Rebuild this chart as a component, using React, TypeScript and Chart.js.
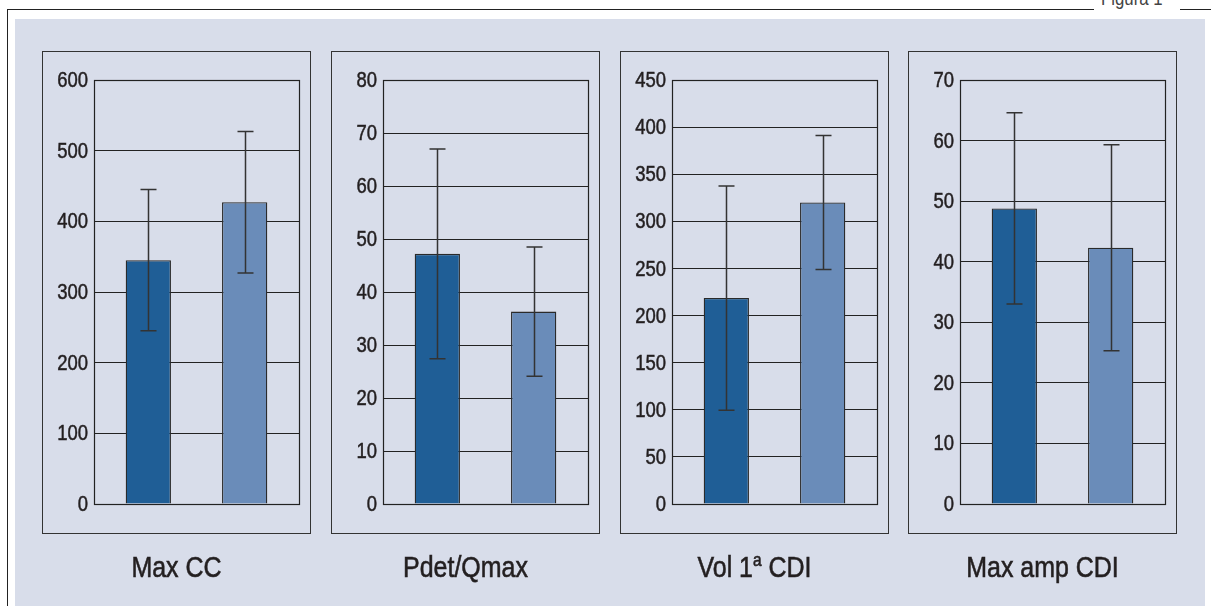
import React, { useEffect, useRef } from "react";
import { Chart, registerables } from "chart.js";

Chart.register(...registerables);

const categories = ["Grupo 1", "Grupo 2"];

const panelTitles = ["Max CC", "Pdet/Qmax", "Vol 1ª CDI", "Max amp CDI"];

const maxCCMeans = [345, 427];
const maxCCSd = [100, 100];
const pdetMeans = [47.2, 36.3];
const pdetSd = [19.8, 12.2];
const volMeans = [218.6, 320];
const volSd = [119, 71];
const ampMeans = [48.8, 42.3];
const ampSd = [15.8, 17];

const axisMax = [600, 80, 450, 70];
const axisStep = [100, 10, 50, 10];

const panels = [
  { means: maxCCMeans, sd: maxCCSd },
  { means: pdetMeans, sd: pdetSd },
  { means: volMeans, sd: volSd },
  { means: ampMeans, sd: ampSd },
];

const panelX = [42, 331, 620, 908];
const PANEL_Y = 51;
const PANEL_W = 269;
const PANEL_H = 483;

const FONT = "'Liberation Sans', Arial, sans-serif";
const NARROW = 0.84;
const DARK = "#1F5E96";
const LIGHT = "#6A8CB9";
const BAR_COLORS = [DARK, LIGHT];
const BG = "#D8DDEA";
const INK = "#231f20";

const framePlugin = {
  id: "frameAndErrors",
  afterDatasetsDraw(chart: any, _args: any, opts: any) {
    const { ctx, chartArea } = chart;
    const yScale = chart.scales.y;
    const sd: number[] = opts.sd || [];
    const means: number[] = opts.means || [];
    ctx.save();
    ctx.strokeStyle = "#333";
    ctx.lineWidth = 1.5;
    chart.data.datasets.forEach((_ds: any, i: number) => {
      const bar: any = chart.getDatasetMeta(i).data[0];
      const x = Math.round(bar.x) + 0.5;
      const top = yScale.getPixelForValue(means[i] + sd[i]);
      const bot = yScale.getPixelForValue(means[i] - sd[i]);
      ctx.beginPath();
      ctx.moveTo(x, top);
      ctx.lineTo(x, bot);
      ctx.moveTo(x - 8, top);
      ctx.lineTo(x + 8, top);
      ctx.moveTo(x - 8, bot);
      ctx.lineTo(x + 8, bot);
      ctx.stroke();
    });
    ctx.strokeStyle = "#222";
    ctx.lineWidth = 1.2;
    ctx.strokeRect(
      Math.round(chartArea.left) + 0.5,
      Math.round(chartArea.top) + 0.5,
      Math.round(chartArea.right - chartArea.left),
      Math.round(chartArea.bottom - chartArea.top)
    );
    // narrow tick labels from the library's y scale
    ctx.fillStyle = INK;
    ctx.strokeStyle = INK;
    ctx.lineWidth = 0.5;
    ctx.font = `22px ${FONT}`;
    ctx.textAlign = "right";
    ctx.textBaseline = "middle";
    yScale.ticks.forEach((t: any) => {
      const y = yScale.getPixelForValue(t.value);
      ctx.save();
      ctx.translate(chartArea.left - 6, y + 1);
      ctx.scale(NARROW, 1);
      ctx.fillText(String(t.label), 0, 0);
      ctx.strokeText(String(t.label), 0, 0);
      ctx.restore();
    });
    ctx.restore();
  },
};

function Panel({ idx }: { idx: number }) {
  const ref = useRef<HTMLCanvasElement>(null);
  useEffect(() => {
    const p = panels[idx];
    const chart = new Chart(ref.current as HTMLCanvasElement, {
      type: "bar",
      data: {
        labels: [""],
        datasets: categories.map((c, i) => ({
          label: c,
          data: [p.means[i]],
          backgroundColor: BAR_COLORS[i],
          borderColor: "#2a2a2a",
          borderWidth: 1.3,
          barPercentage: 0.47,
          categoryPercentage: 0.94,
        })),
      },
      options: {
        responsive: false,
        animation: false,
        layout: { padding: { top: 29, bottom: 30, left: 0, right: 12 } },
        plugins: {
          legend: { display: false },
          tooltip: { enabled: false },
          frameAndErrors: { means: p.means, sd: p.sd },
        } as any,
        scales: {
          x: { display: false },
          y: {
            min: 0,
            max: axisMax[idx],
            afterFit: (s: any) => {
              s.width = 52;
            },
            ticks: {
              stepSize: axisStep[idx],
              display: false,
            },
            grid: { color: "#222", lineWidth: 1, drawTicks: false },
            border: { display: true, color: "#222", width: 1 },
          },
        },
      },
      plugins: [framePlugin],
    });
    return () => chart.destroy();
  }, [idx]);

  const x = panelX[idx];
  const title =
    idx === 2 ? (
      <span>
        Vol 1
        <span style={{ fontSize: "0.62em", position: "relative", top: "-0.6em", lineHeight: 0 }}>a</span> CDI
      </span>
    ) : (
      panelTitles[idx]
    );
  return (
    <>
      <canvas
        ref={ref}
        width={PANEL_W}
        height={PANEL_H}
        style={{ position: "absolute", left: x, top: PANEL_Y, width: PANEL_W, height: PANEL_H }}
      />
      <div
        style={{
          position: "absolute",
          left: x,
          top: PANEL_Y,
          width: PANEL_W,
          height: PANEL_H,
          boxSizing: "border-box",
          border: "1.5px solid #333",
          pointerEvents: "none",
        }}
      />
      <div
        style={{
          position: "absolute",
          left: x,
          top: 546,
          width: PANEL_W,
          height: 42,
          lineHeight: "42px",
          textAlign: "center",
          fontFamily: FONT,
          fontSize: 30,
          color: INK,
          WebkitTextStroke: `0.6px ${INK}`,
          transform: `scaleX(${NARROW * 0.99})`,
          transformOrigin: "center",
          whiteSpace: "nowrap",
        }}
      >
        {title}
      </div>
    </>
  );
}

export default function App() {
  return (
    <div
      style={{
        position: "absolute",
        left: 0,
        top: 0,
        width: 1211,
        height: 606,
        overflow: "hidden",
        background: "#fff",
      }}
    >
      <div style={{ position: "absolute", left: 15, top: 19, width: 1190, height: 600, background: BG }} />
      <div style={{ position: "absolute", left: 7, top: 9, width: 1087, height: 0, borderTop: "1px solid #222" }} />
      <div style={{ position: "absolute", left: 1180, top: 9, width: 31, height: 0, borderTop: "1px solid #222" }} />
      <div style={{ position: "absolute", left: 7, top: 9, width: 0, height: 600, borderLeft: "1.5px solid #222" }} />
      <div
        style={{
          position: "absolute",
          left: 1101,
          top: -12,
          height: 20,
          lineHeight: "20px",
          fontFamily: FONT,
          fontSize: 20,
          color: "#444",
          whiteSpace: "nowrap",
          transform: `scaleX(${NARROW})`,
          transformOrigin: "left",
        }}
      >
        Figura 1
      </div>
      {[0, 1, 2, 3].map((i) => (
        <Panel key={i} idx={i} />
      ))}
    </div>
  );
}
